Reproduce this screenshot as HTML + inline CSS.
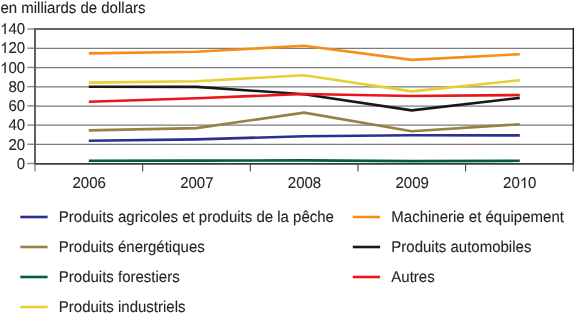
<!DOCTYPE html>
<html><head><meta charset="utf-8"><style>html,body{margin:0;padding:0;background:#fff;width:580px;height:322px;overflow:hidden}svg{display:block;will-change:transform}</style></head>
<body>
<svg width="580" height="322" viewBox="0 0 580 322">
<rect width="580" height="322" fill="#fff"/>
<text transform="translate(0.40,13.20) scale(1,1.043)" font-family="Liberation Sans, sans-serif" font-size="15" text-rendering="geometricPrecision" fill="#252525" stroke="#252525" stroke-width="0.1">en milliards de dollars</text>
<line x1="35" y1="144.44" x2="573" y2="144.44" stroke="#7c7c7c" stroke-width="1.25"/>
<line x1="35" y1="125.22" x2="573" y2="125.22" stroke="#7c7c7c" stroke-width="1.25"/>
<line x1="35" y1="106.01" x2="573" y2="106.01" stroke="#7c7c7c" stroke-width="1.25"/>
<line x1="35" y1="86.79" x2="573" y2="86.79" stroke="#7c7c7c" stroke-width="1.25"/>
<line x1="35" y1="67.58" x2="573" y2="67.58" stroke="#7c7c7c" stroke-width="1.25"/>
<line x1="35" y1="48.36" x2="573" y2="48.36" stroke="#7c7c7c" stroke-width="1.25"/>
<line x1="34" y1="29" x2="574" y2="29" stroke="#646464" stroke-width="2"/>
<line x1="573.3" y1="28" x2="573.3" y2="164.5" stroke="#222" stroke-width="1.5"/>
<line x1="27.3" y1="163.50" x2="35" y2="163.50" stroke="#888" stroke-width="1.4"/>
<text transform="translate(25.20,169.00) scale(1,1.043)" text-anchor="end" font-family="Liberation Sans, sans-serif" font-size="15" text-rendering="geometricPrecision" fill="#252525" stroke="#252525" stroke-width="0.1">0</text>
<line x1="27.3" y1="144.29" x2="35" y2="144.29" stroke="#888" stroke-width="1.4"/>
<text transform="translate(25.20,150.00) scale(1,1.043)" text-anchor="end" font-family="Liberation Sans, sans-serif" font-size="15" text-rendering="geometricPrecision" fill="#252525" stroke="#252525" stroke-width="0.1">20</text>
<line x1="27.3" y1="125.07" x2="35" y2="125.07" stroke="#888" stroke-width="1.4"/>
<text transform="translate(25.20,130.00) scale(1,1.043)" text-anchor="end" font-family="Liberation Sans, sans-serif" font-size="15" text-rendering="geometricPrecision" fill="#252525" stroke="#252525" stroke-width="0.1">40</text>
<line x1="27.3" y1="105.86" x2="35" y2="105.86" stroke="#888" stroke-width="1.4"/>
<text transform="translate(25.20,111.00) scale(1,1.043)" text-anchor="end" font-family="Liberation Sans, sans-serif" font-size="15" text-rendering="geometricPrecision" fill="#252525" stroke="#252525" stroke-width="0.1">60</text>
<line x1="27.3" y1="86.64" x2="35" y2="86.64" stroke="#888" stroke-width="1.4"/>
<text transform="translate(25.20,92.00) scale(1,1.043)" text-anchor="end" font-family="Liberation Sans, sans-serif" font-size="15" text-rendering="geometricPrecision" fill="#252525" stroke="#252525" stroke-width="0.1">80</text>
<line x1="27.3" y1="67.43" x2="35" y2="67.43" stroke="#888" stroke-width="1.4"/>
<text transform="translate(25.20,73.00) scale(1,1.043)" text-anchor="end" font-family="Liberation Sans, sans-serif" font-size="15" text-rendering="geometricPrecision" fill="#252525" stroke="#252525" stroke-width="0.1">00</text>
<path transform="translate(0.173,73.000) scale(0.007324,-0.007334)" d="M763 0L583 0L583 1147C540 1106 483 1065 413 1024C343 983 280 952 225 932L225 1106C326 1153 414 1210 489 1277C564 1344 617 1409 648 1472L763 1472Z" fill="#252525" stroke="#252525" stroke-width="13.65"/>
<line x1="27.3" y1="48.21" x2="35" y2="48.21" stroke="#888" stroke-width="1.4"/>
<text transform="translate(25.20,53.00) scale(1,1.043)" text-anchor="end" font-family="Liberation Sans, sans-serif" font-size="15" text-rendering="geometricPrecision" fill="#252525" stroke="#252525" stroke-width="0.1">20</text>
<path transform="translate(0.173,53.000) scale(0.007324,-0.007334)" d="M763 0L583 0L583 1147C540 1106 483 1065 413 1024C343 983 280 952 225 932L225 1106C326 1153 414 1210 489 1277C564 1344 617 1409 648 1472L763 1472Z" fill="#252525" stroke="#252525" stroke-width="13.65"/>
<line x1="27.3" y1="29.00" x2="35" y2="29.00" stroke="#888" stroke-width="1.4"/>
<text transform="translate(25.20,34.00) scale(1,1.043)" text-anchor="end" font-family="Liberation Sans, sans-serif" font-size="15" text-rendering="geometricPrecision" fill="#252525" stroke="#252525" stroke-width="0.1">40</text>
<path transform="translate(0.173,34.000) scale(0.007324,-0.007334)" d="M763 0L583 0L583 1147C540 1106 483 1065 413 1024C343 983 280 952 225 932L225 1106C326 1153 414 1210 489 1277C564 1344 617 1409 648 1472L763 1472Z" fill="#252525" stroke="#252525" stroke-width="13.65"/>
<line x1="34" y1="163.9" x2="574" y2="163.9" stroke="#3c3c3c" stroke-width="1.7"/>
<line x1="35" y1="28" x2="35" y2="164.8" stroke="#606060" stroke-width="2"/>
<line x1="35" y1="164.8" x2="35" y2="171.5" stroke="#999" stroke-width="1.6"/>
<line x1="142.64" y1="163.5" x2="142.64" y2="171.5" stroke="#444" stroke-width="1.1"/>
<line x1="250.28" y1="163.5" x2="250.28" y2="171.5" stroke="#444" stroke-width="1.1"/>
<line x1="357.92" y1="163.5" x2="357.92" y2="171.5" stroke="#444" stroke-width="1.1"/>
<line x1="465.56" y1="163.5" x2="465.56" y2="171.5" stroke="#444" stroke-width="1.1"/>
<line x1="573.20" y1="163.5" x2="573.20" y2="171.5" stroke="#444" stroke-width="1.1"/>
<text transform="translate(89.22,188.00) scale(1,1.043)" text-anchor="middle" font-family="Liberation Sans, sans-serif" font-size="15" text-rendering="geometricPrecision" fill="#252525" stroke="#252525" stroke-width="0.1">2006</text>
<text transform="translate(196.86,188.00) scale(1,1.043)" text-anchor="middle" font-family="Liberation Sans, sans-serif" font-size="15" text-rendering="geometricPrecision" fill="#252525" stroke="#252525" stroke-width="0.1">2007</text>
<text transform="translate(304.50,188.00) scale(1,1.043)" text-anchor="middle" font-family="Liberation Sans, sans-serif" font-size="15" text-rendering="geometricPrecision" fill="#252525" stroke="#252525" stroke-width="0.1">2008</text>
<text transform="translate(412.14,188.00) scale(1,1.043)" text-anchor="middle" font-family="Liberation Sans, sans-serif" font-size="15" text-rendering="geometricPrecision" fill="#252525" stroke="#252525" stroke-width="0.1">2009</text>
<text transform="translate(503.10,188.00) scale(1,1.043)" font-family="Liberation Sans, sans-serif" font-size="15" text-rendering="geometricPrecision" fill="#252525" stroke="#252525" stroke-width="0.1">20</text>
<path transform="translate(519.780,188.000) scale(0.007324,-0.007334)" d="M763 0L583 0L583 1147C540 1106 483 1065 413 1024C343 983 280 952 225 932L225 1106C326 1153 414 1210 489 1277C564 1344 617 1409 648 1472L763 1472Z" fill="#252525" stroke="#252525" stroke-width="13.65"/>
<text transform="translate(528.12,188.00) scale(1,1.043)" font-family="Liberation Sans, sans-serif" font-size="15" text-rendering="geometricPrecision" fill="#252525" stroke="#252525" stroke-width="0.1">0</text>
<polyline points="88.82,140.70 196.46,139.40 304.10,136.20 411.74,135.20 519.78,135.40" fill="none" stroke="#2b2f92" stroke-width="2.6" stroke-linejoin="miter"/>
<polyline points="88.82,53.40 196.46,51.80 304.10,45.80 411.74,59.90 519.78,54.20" fill="none" stroke="#f68d17" stroke-width="2.6" stroke-linejoin="miter"/>
<polyline points="88.82,130.40 196.46,128.10 304.10,112.60 411.74,131.20 519.78,124.30" fill="none" stroke="#978145" stroke-width="2.6" stroke-linejoin="miter"/>
<polyline points="88.82,86.80 196.46,86.90 304.10,94.20 411.74,110.40 519.78,97.90" fill="none" stroke="#1a1718" stroke-width="2.6" stroke-linejoin="miter"/>
<polyline points="88.82,160.70 196.46,160.60 304.10,160.40 411.74,161.10 519.78,160.80" fill="none" stroke="#00603a" stroke-width="2.6" stroke-linejoin="miter"/>
<polyline points="88.82,101.80 196.46,98.20 304.10,94.00 411.74,96.00 519.78,95.00" fill="none" stroke="#ea141d" stroke-width="2.6" stroke-linejoin="miter"/>
<polyline points="88.82,82.60 196.46,81.30 304.10,75.20 411.74,91.40 519.78,80.20" fill="none" stroke="#e6cf34" stroke-width="2.6" stroke-linejoin="miter"/>
<line x1="20.3" y1="217.00" x2="47.60" y2="217.00" stroke="#2b2f92" stroke-width="2.6"/>
<text transform="translate(58.80,221.80) scale(1,1.043)" font-family="Liberation Sans, sans-serif" font-size="15" text-rendering="geometricPrecision" fill="#252525" stroke="#252525" stroke-width="0.1">Produits agricoles et produits de la pêche</text>
<line x1="352.8" y1="217.00" x2="380.10" y2="217.00" stroke="#f68d17" stroke-width="2.6"/>
<text transform="translate(391.30,221.80) scale(1,1.043)" font-family="Liberation Sans, sans-serif" font-size="15" text-rendering="geometricPrecision" fill="#252525" stroke="#252525" stroke-width="0.1">Machinerie et équipement</text>
<line x1="20.3" y1="247.00" x2="47.60" y2="247.00" stroke="#978145" stroke-width="2.6"/>
<text transform="translate(58.80,251.80) scale(1,1.043)" font-family="Liberation Sans, sans-serif" font-size="15" text-rendering="geometricPrecision" fill="#252525" stroke="#252525" stroke-width="0.1">Produits énergétiques</text>
<line x1="352.8" y1="247.00" x2="380.10" y2="247.00" stroke="#1a1718" stroke-width="2.6"/>
<text transform="translate(391.30,251.80) scale(1,1.043)" font-family="Liberation Sans, sans-serif" font-size="15" text-rendering="geometricPrecision" fill="#252525" stroke="#252525" stroke-width="0.1">Produits automobiles</text>
<line x1="20.3" y1="277.00" x2="47.60" y2="277.00" stroke="#00603a" stroke-width="2.6"/>
<text transform="translate(58.80,281.80) scale(1,1.043)" font-family="Liberation Sans, sans-serif" font-size="15" text-rendering="geometricPrecision" fill="#252525" stroke="#252525" stroke-width="0.1">Produits forestiers</text>
<line x1="352.8" y1="277.00" x2="380.10" y2="277.00" stroke="#ea141d" stroke-width="2.6"/>
<text transform="translate(391.30,281.80) scale(1,1.043)" font-family="Liberation Sans, sans-serif" font-size="15" text-rendering="geometricPrecision" fill="#252525" stroke="#252525" stroke-width="0.1">Autres</text>
<line x1="20.3" y1="307.00" x2="47.60" y2="307.00" stroke="#e6cf34" stroke-width="2.6"/>
<text transform="translate(58.80,311.80) scale(1,1.043)" font-family="Liberation Sans, sans-serif" font-size="15" text-rendering="geometricPrecision" fill="#252525" stroke="#252525" stroke-width="0.1">Produits industriels</text>
</svg>
</body></html>
